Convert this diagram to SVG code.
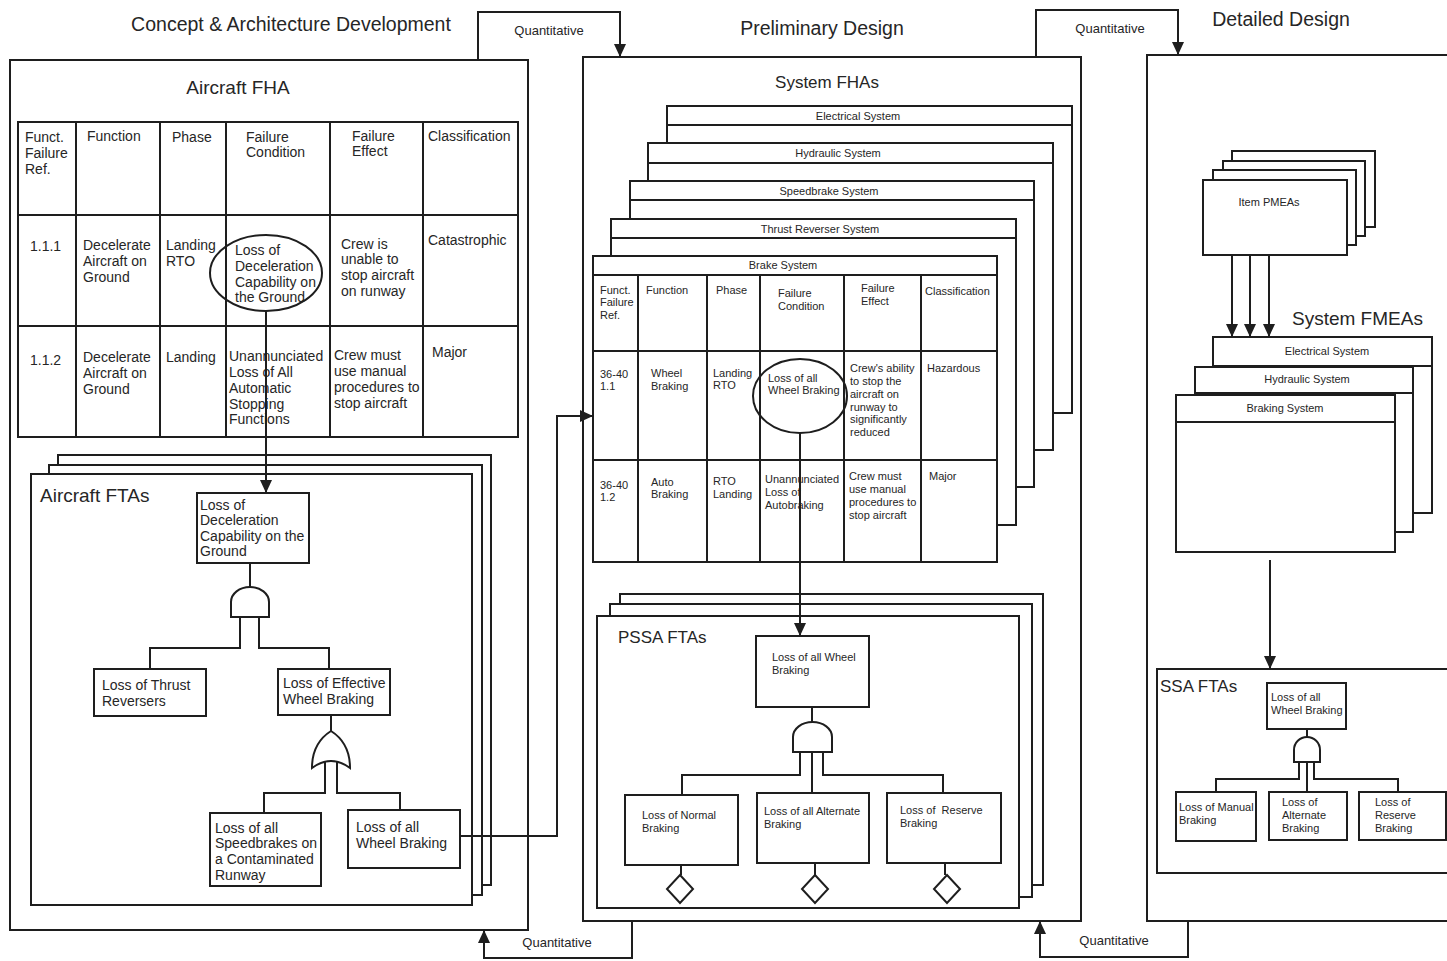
<svg xmlns="http://www.w3.org/2000/svg" width="1447" height="961" viewBox="0 0 1447 961">
<style>
.bx{fill:#fff;stroke:#1e1e1e;stroke-width:2}
.ln{fill:none;stroke:#1e1e1e;stroke-width:2}
.cn{fill:none;stroke:#1e1e1e;stroke-width:2}
.gt{fill:#fff;stroke:#1e1e1e;stroke-width:2}
text{font-family:"Liberation Sans",Arial,sans-serif;fill:#262626}
.ttl{font-size:19.5px}
.h2{font-size:19px}
.h3{font-size:17px}
.t14{font-size:14px}
.t11{font-size:11px}
.q{font-size:13px}
.c{text-anchor:middle}
</style>
<defs>
<marker id="ah" markerUnits="userSpaceOnUse" markerWidth="14" markerHeight="12" refX="13" refY="6" orient="auto">
<path d="M0,0 L13,6 L0,12 Z" fill="#1e1e1e"/>
</marker>
</defs>
<rect width="1447" height="961" fill="#fff"/>

<g id="titles">
<text class="ttl c" x="291" y="31">Concept &amp; Architecture Development</text>
<text class="ttl c" x="822" y="35">Preliminary Design</text>
<text class="ttl c" x="1281" y="26">Detailed Design</text>
</g>

<!-- LEFT PANEL -->
<g id="concept-panel">
<rect class="bx" x="10" y="60" width="518" height="870"/>
<text class="h2 c" x="238" y="94">Aircraft FHA</text>
</g>

<g id="aircraft-fha-table">
<rect class="bx" x="18" y="122" width="500" height="315"/>
<path class="ln" d="M76,122V437M160,122V437M226,122V437M330,122V437M423,122V437M18,215H518M18,326H518"/>
<g class="t14">
<text x="25" y="142">Funct.</text><text x="25" y="158">Failure</text><text x="25" y="174">Ref.</text>
<text x="87" y="141">Function</text>
<text x="172" y="142">Phase</text>
<text x="246" y="142">Failure</text><text x="246" y="157">Condition</text>
<text x="352" y="141">Failure</text><text x="352" y="156">Effect</text>
<text x="428" y="141">Classification</text>
<text x="30" y="251">1.1.1</text>
<text x="83" y="250">Decelerate</text><text x="83" y="266">Aircraft on</text><text x="83" y="282">Ground</text>
<text x="166" y="250">Landing</text><text x="166" y="266">RTO</text>
<text x="235" y="255">Loss of</text><text x="235" y="271">Deceleration</text><text x="235" y="287">Capability on</text><text x="235" y="302">the Ground</text>
<text x="341" y="249">Crew is</text><text x="341" y="264">unable to</text><text x="341" y="280">stop aircraft</text><text x="341" y="296">on runway</text>
<text x="428" y="245">Catastrophic</text>
<text x="30" y="365">1.1.2</text>
<text x="83" y="362">Decelerate</text><text x="83" y="378">Aircraft on</text><text x="83" y="394">Ground</text>
<text x="166" y="362">Landing</text>
<text x="229" y="361">Unannunciated</text><text x="229" y="377">Loss of All</text><text x="229" y="393">Automatic</text><text x="229" y="409">Stopping</text><text x="229" y="424">Functions</text>
<text x="334" y="360">Crew must</text><text x="334" y="376">use manual</text><text x="334" y="392">procedures to</text><text x="334" y="408">stop aircraft</text>
<text x="432" y="357">Major</text>
</g>
<ellipse class="ln" cx="266" cy="273" rx="56" ry="38"/>
</g>

<g id="aircraft-ftas">
<rect class="bx" x="58" y="455" width="433" height="430"/>
<rect class="bx" x="49" y="465" width="433" height="430"/>
<rect class="bx" x="31" y="474" width="441" height="431"/>
<text class="h2" x="40" y="502">Aircraft FTAs</text>
</g>

<g id="fta-top">
<rect class="bx" x="197" y="493" width="112" height="70"/>
<text class="t14" x="200" y="510">Loss of</text><text class="t14" x="200" y="525">Deceleration</text><text class="t14" x="200" y="541">Capability on the</text><text class="t14" x="200" y="556">Ground</text>
</g>
<g id="fta-and-gate"><path class="gt" d="M231,617 V602 A19,15 0 0 1 269,602 V617 Z"/></g>
<g id="fta-thrust">
<rect class="bx" x="94" y="669" width="112" height="47"/>
<text class="t14" x="102" y="690">Loss of Thrust</text><text class="t14" x="102" y="706">Reversers</text>
</g>
<g id="fta-effective">
<rect class="bx" x="278" y="669" width="112" height="46"/>
<text class="t14" x="283" y="688">Loss of Effective</text><text class="t14" x="283" y="704">Wheel Braking</text>
</g>
<g id="fta-or-gate"><path class="gt" d="M312,768 C312,750 320,738 331,731 C342,738 350,750 350,768 Q331,754 312,768 Z"/></g>
<g id="fta-speedbrakes">
<rect class="bx" x="210" y="813" width="111" height="73"/>
<text class="t14" x="215" y="833">Loss of all</text><text class="t14" x="215" y="848">Speedbrakes on</text><text class="t14" x="215" y="864">a Contaminated</text><text class="t14" x="215" y="880">Runway</text>
</g>
<g id="fta-wheel">
<rect class="bx" x="348" y="810" width="112" height="58"/>
<text class="t14" x="356" y="832">Loss of all</text><text class="t14" x="356" y="848">Wheel Braking</text>
</g>

<!-- MIDDLE PANEL -->
<g id="preliminary-panel">
<rect class="bx" x="583" y="57" width="498" height="864"/>
<text class="h3 c" x="827" y="88">System FHAs</text>
</g>

<g id="sys-electrical">
<rect class="bx" x="667" y="106" width="405" height="307"/><path class="ln" d="M667,125H1072"/>
<text class="t11 c" x="858" y="120">Electrical System</text>
</g>
<g id="sys-hydraulic">
<rect class="bx" x="648" y="143" width="405" height="307"/><path class="ln" d="M648,163H1053"/>
<text class="t11 c" x="838" y="157">Hydraulic System</text>
</g>
<g id="sys-speedbrake">
<rect class="bx" x="630" y="181" width="404" height="306"/><path class="ln" d="M630,200H1034"/>
<text class="t11 c" x="829" y="195">Speedbrake System</text>
</g>
<g id="sys-thrust">
<rect class="bx" x="611" y="219" width="405" height="306"/><path class="ln" d="M611,238H1016"/>
<text class="t11 c" x="820" y="233">Thrust Reverser System</text>
</g>
<g id="sys-brake">
<rect class="bx" x="593" y="256" width="404" height="306"/>
<path class="ln" d="M593,275H997M593,351H997M593,460H997M638,275V562M707,275V562M760,275V562M844,275V562M921,275V562"/>
<text class="t11 c" x="783" y="269">Brake System</text>
<g class="t11">
<text x="600" y="294">Funct.</text><text x="600" y="306">Failure</text><text x="600" y="319">Ref.</text>
<text x="646" y="294">Function</text>
<text x="716" y="294">Phase</text>
<text x="778" y="297">Failure</text><text x="778" y="310">Condition</text>
<text x="861" y="292">Failure</text><text x="861" y="305">Effect</text>
<text x="925" y="295">Classification</text>
<text x="600" y="378">36-40</text><text x="600" y="390">1.1</text>
<text x="651" y="377">Wheel</text><text x="651" y="390">Braking</text>
<text x="713" y="377">Landing</text><text x="713" y="389">RTO</text>
<text x="768" y="382">Loss of all</text><text x="768" y="394">Wheel Braking</text>
<text x="850" y="372">Crew's ability</text><text x="850" y="385">to stop the</text><text x="850" y="398">aircraft on</text><text x="850" y="411">runway to</text><text x="850" y="423">significantly</text><text x="850" y="436">reduced</text>
<text x="927" y="372">Hazardous</text>
<text x="600" y="489">36-40</text><text x="600" y="501">1.2</text>
<text x="651" y="486">Auto</text><text x="651" y="498">Braking</text>
<text x="713" y="485">RTO</text><text x="713" y="498">Landing</text>
<text x="765" y="483">Unannunciated</text><text x="765" y="496">Loss of</text><text x="765" y="509">Autobraking</text>
<text x="849" y="480">Crew must</text><text x="849" y="493">use manual</text><text x="849" y="506">procedures to</text><text x="849" y="519">stop aircraft</text>
<text x="929" y="480">Major</text>
</g>
<ellipse class="ln" cx="800" cy="396" rx="47" ry="37"/>
</g>

<g id="pssa-ftas">
<rect class="bx" x="620" y="594" width="423" height="291"/>
<rect class="bx" x="610" y="604" width="422" height="293"/>
<rect class="bx" x="597" y="616" width="422" height="292"/>
<text class="h3" x="618" y="643">PSSA FTAs</text>
</g>
<g id="pssa-top">
<rect class="bx" x="756" y="636" width="113" height="71"/>
<text class="t11" x="772" y="661">Loss of all Wheel</text><text class="t11" x="772" y="674">Braking</text>
</g>
<g id="pssa-and-gate"><path class="gt" d="M793,752 V737 A19.5,15 0 0 1 832,737 V752 Z"/></g>
<g id="pssa-normal">
<rect class="bx" x="625" y="795" width="113" height="70"/>
<text class="t11" x="642" y="819">Loss of Normal</text><text class="t11" x="642" y="832">Braking</text>
<path class="gt" d="M680,875 L693,889 L680,903 L667,889 Z"/>
</g>
<g id="pssa-alternate">
<rect class="bx" x="757" y="793" width="112" height="70"/>
<text class="t11" x="764" y="815">Loss of all Alternate</text><text class="t11" x="764" y="828">Braking</text>
<path class="gt" d="M815,875 L828,889 L815,903 L802,889 Z"/>
</g>
<g id="pssa-reserve">
<rect class="bx" x="887" y="793" width="114" height="70"/>
<text class="t11" x="900" y="814" xml:space="preserve">Loss of  Reserve</text><text class="t11" x="900" y="827">Braking</text>
<path class="gt" d="M947,875 L960,889 L947,903 L934,889 Z"/>
</g>

<!-- RIGHT PANEL -->
<g id="detailed-panel">
<rect class="bx" x="1147" y="55" width="320" height="866"/>
</g>
<g id="item-pmeas">
<rect class="bx" x="1232" y="151" width="143" height="76"/>
<rect class="bx" x="1223" y="161" width="142" height="75"/>
<rect class="bx" x="1213" y="170" width="143" height="75"/>
<rect class="bx" x="1203" y="180" width="144" height="75"/>
<text class="t11 c" x="1269" y="206">Item PMEAs</text>
</g>
<g id="system-fmeas">
<text class="h2" x="1292" y="325">System FMEAs</text>
<rect class="bx" x="1213" y="337" width="219" height="176"/><path class="ln" d="M1213,366H1432"/>
<text class="t11 c" x="1327" y="355">Electrical System</text>
<rect class="bx" x="1195" y="367" width="218" height="165"/><path class="ln" d="M1195,393H1413"/>
<text class="t11 c" x="1307" y="383">Hydraulic System</text>
<rect class="bx" x="1176" y="395" width="219" height="157"/><path class="ln" d="M1176,422H1395"/>
<text class="t11 c" x="1285" y="412">Braking System</text>
</g>
<g id="ssa-ftas">
<rect class="bx" x="1157" y="669" width="310" height="204"/>
<text class="h3" x="1160" y="692">SSA FTAs</text>
</g>
<g id="ssa-top">
<rect class="bx" x="1267" y="683" width="79" height="46"/>
<text class="t11" x="1271" y="701">Loss of all</text><text class="t11" x="1271" y="714">Wheel Braking</text>
</g>
<g id="ssa-and-gate"><path class="gt" d="M1294,762 V750 A13,13 0 0 1 1320,750 V762 Z"/></g>
<g id="ssa-manual">
<rect class="bx" x="1176" y="792" width="80" height="49"/>
<text class="t11" x="1179" y="811">Loss of Manual</text><text class="t11" x="1179" y="824">Braking</text>
</g>
<g id="ssa-alternate">
<rect class="bx" x="1269" y="792" width="78" height="48"/>
<text class="t11" x="1282" y="806">Loss of</text><text class="t11" x="1282" y="819">Alternate</text><text class="t11" x="1282" y="832">Braking</text>
</g>
<g id="ssa-reserve">
<rect class="bx" x="1359" y="792" width="87" height="48"/>
<text class="t11" x="1375" y="806">Loss of</text><text class="t11" x="1375" y="819">Reserve</text><text class="t11" x="1375" y="832">Braking</text>
</g>

<!-- CONNECTORS -->
<g id="connectors">
<path class="cn" d="M266,311 V493" marker-end="url(#ah)"/>
<path class="cn" d="M250,563 V588"/>
<path class="cn" d="M240,617 V648 H150 V669"/>
<path class="cn" d="M259,617 V648 H329 V669"/>
<path class="cn" d="M331,715 V731"/>
<path class="cn" d="M325,761 V793 H264 V813"/>
<path class="cn" d="M337,761 V793 H400 V810"/>
<path class="cn" d="M460,836 H557 V416 H593" marker-end="url(#ah)"/>
<path class="cn" d="M800,433 V636" marker-end="url(#ah)"/>
<path class="cn" d="M812,707 V722"/>
<path class="cn" d="M800,752 V775 H682 V795"/>
<path class="cn" d="M812,752 V793"/>
<path class="cn" d="M823,752 V775 H943 V793"/>
<path class="cn" d="M681,865 V875M815,863 V875M945,863 V875"/>
<path class="cn" d="M1232,255 V337" marker-end="url(#ah)"/>
<path class="cn" d="M1250,255 V337" marker-end="url(#ah)"/>
<path class="cn" d="M1269,255 V337" marker-end="url(#ah)"/>
<path class="cn" d="M1270,560 V669" marker-end="url(#ah)"/>
<path class="cn" d="M1307,729 V737"/>
<path class="cn" d="M1299,762 V779 H1216 V792"/>
<path class="cn" d="M1307,762 V792"/>
<path class="cn" d="M1314,762 V779 H1398 V792"/>
<path class="cn" d="M478,60 V12 H620 V57" marker-end="url(#ah)"/>
<path class="cn" d="M1036,57 V10 H1178 V55" marker-end="url(#ah)"/>
<path class="cn" d="M632,921 V958 H484 V930" marker-end="url(#ah)"/>
<path class="cn" d="M1188,921 V957 H1040 V921" marker-end="url(#ah)"/>
<text class="q c" x="549" y="35">Quantitative</text>
<text class="q c" x="1110" y="33">Quantitative</text>
<text class="q c" x="557" y="947">Quantitative</text>
<text class="q c" x="1114" y="945">Quantitative</text>
</g>
</svg>
